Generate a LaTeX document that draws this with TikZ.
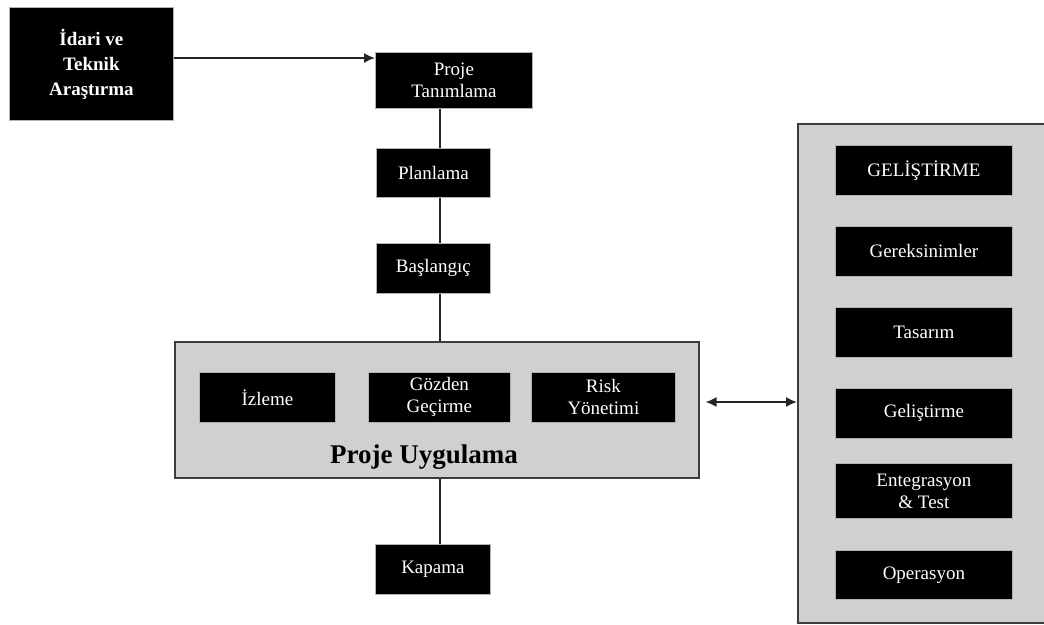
\documentclass[tikz,border=0pt]{standalone}
\usepackage{fontspec}
\setmainfont{Liberation Serif}
\usetikzlibrary{arrows.meta}
\definecolor{panelgray}{RGB}{208,208,208}
\definecolor{edgegray}{RGB}{60,60,60}
\begin{document}
\begin{tikzpicture}[x=1pt,y=-1pt,
  blackbox/.style={fill=black, draw=gray!60, line width=0.8pt, text=white,
    font=\fontsize{19}{22}\selectfont, align=center, inner sep=0pt, anchor=north west},
  panel/.style={fill=panelgray, draw=edgegray, line width=1.6pt, anchor=north west, inner sep=0pt},
  link/.style={draw=black!85, line width=1.5pt},
  head/.style={-{Latex[length=11pt,width=10pt]}},
  heads/.style={{Latex[length=11pt,width=10pt]}-{Latex[length=11pt,width=10pt]}}
]
\useasboundingbox (0,0) rectangle (1044,624);
\clip (0,0) rectangle (1044,624);

% background panels
\node[panel, minimum width=524pt, minimum height=136pt] (uyg) at (174,341) {};
\node[panel, minimum width=270pt, minimum height=499pt] (dev) at (797,123) {};

% main chain
\node[blackbox, minimum width=164pt, minimum height=113pt,
  font=\bfseries\fontsize{19}{25}\selectfont] (idari) at (9,7) {İdari ve\\Teknik\\Araştırma};
\node[blackbox, minimum width=157pt, minimum height=56pt] (tanim) at (375,52) {Proje\\Tanımlama};
\node[blackbox, minimum width=114pt, minimum height=49pt] (plan) at (376,148) {Planlama};
\node[blackbox, minimum width=114pt, minimum height=50pt] (bas) at (376,243) {Başlangıç};
\node[blackbox, minimum width=115pt, minimum height=50pt] (kapama) at (375,544) {Kapama};

% project execution
\node[blackbox, minimum width=136pt, minimum height=50pt] (izle) at (199,372) {İzleme};
\node[blackbox, minimum width=142pt, minimum height=50pt] (gozden) at (368,372) {Gözden\\Geçirme};
\node[blackbox, minimum width=144pt, minimum height=50pt] (risk) at (531,372) {Risk\\Yönetimi};
\node[font=\bfseries\fontsize{27}{30}\selectfont] (uyglabel) at (424,457) {Proje Uygulama};

% development
\node[blackbox, minimum width=177pt, minimum height=50pt] (gel) at (835,145) {GELİŞTİRME};
\node[blackbox, minimum width=177pt, minimum height=50pt] (ger) at (835,226) {Gereksinimler};
\node[blackbox, minimum width=177pt, minimum height=50pt] (tas) at (835,307) {Tasarım};
\node[blackbox, minimum width=177pt, minimum height=50pt] (gelis) at (835,388) {Geliştirme};
\node[blackbox, minimum width=177pt, minimum height=55pt] (ent) at (835,463) {Entegrasyon\\\& Test};
\node[blackbox, minimum width=177pt, minimum height=49pt] (ops) at (835,550) {Operasyon};

% connectors
\coordinate (spine) at (440,0);
\coordinate (bus) at (0,402);
\path (tanim.north west) ++(0,6) coordinate (ain);
\draw[link, head] (idari.east |- ain) -- (ain);
\draw[link] (spine |- tanim.south) -- (spine |- plan.north);
\draw[link] (spine |- plan.south) -- (spine |- bas.north);
\draw[link] (spine |- bas.south) -- (spine |- uyg.north);
\draw[link] (spine |- uyg.south) -- (spine |- kapama.north);
\draw[link, heads] ([xshift=6pt]uyg.east |- bus) -- (dev.west |- bus);
\end{tikzpicture}
\end{document}
